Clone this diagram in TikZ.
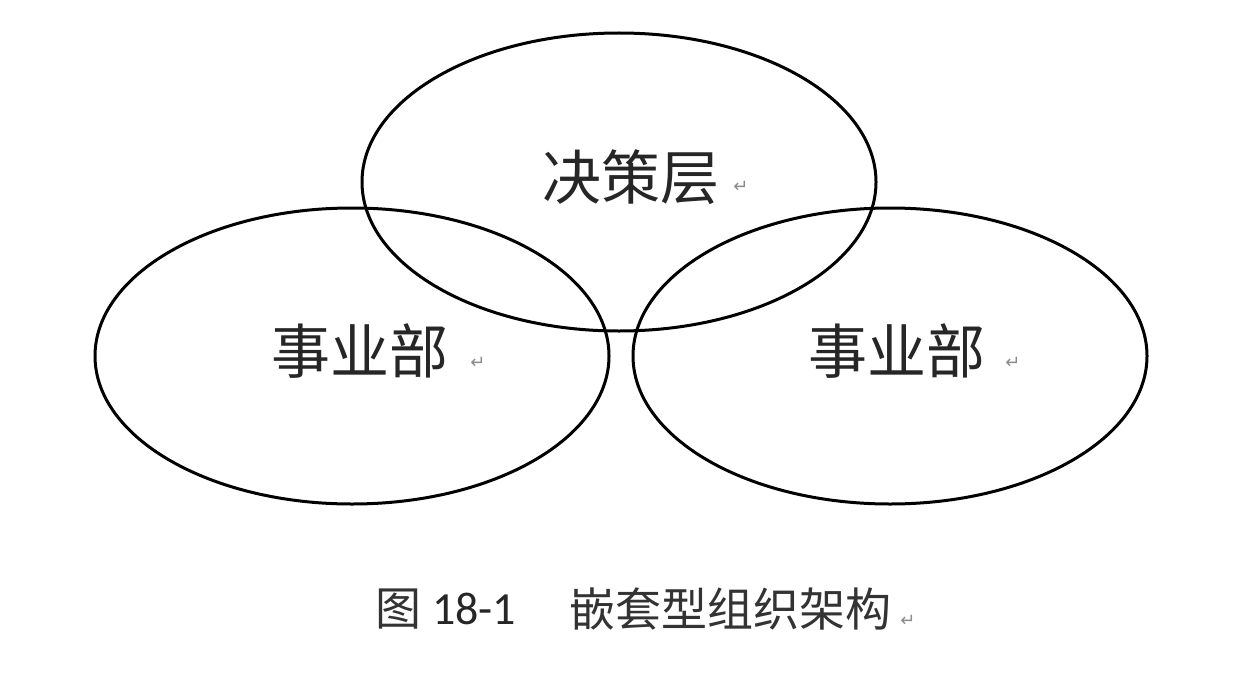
\documentclass[tikz,border=0pt]{standalone}
\usepackage{fontspec}
\newfontfamily\cjk{Noto Sans CJK SC}
\newfontfamily\latin{Carlito}
\newfontfamily\sym{DejaVu Sans}
\begin{document}
\begin{tikzpicture}[x=1pt,y=-1pt,
  oval/.style={draw=black,line width=3pt},
  big/.style={inner sep=0pt,font=\cjk\fontsize{59}{59}\selectfont,text=black!85},
  captext/.style={inner sep=0pt,font=\cjk\fontsize{46}{46}\selectfont,text=black!80},
  pmark/.style={inner sep=0pt,font=\sym\fontsize{18}{18}\selectfont,text=black!45}]
\useasboundingbox (0,0) rectangle (1244,674);
\fill[white] (0,0) rectangle (1244,674);
\draw[oval] (619,182) ellipse [x radius=257, y radius=149];
\draw[oval] (352,356) ellipse [x radius=257, y radius=148];
\draw[oval] (890,356) ellipse [x radius=257, y radius=148];
\node[big,anchor=west] (top) at (542,177) {决策层};
\node[pmark] (mt) at (741,187) {↵};
\node[big,anchor=west] (left) at (271,351) {事业部};
\node[pmark] (ml) at (478,363) {↵};
\node[big,anchor=west] (right) at (808,351) {事业部};
\node[pmark] (mr) at (1013,363) {↵};
\node[captext,anchor=west] (tu) at (375,609) {图};
\node[inner sep=0pt,anchor=west,font=\latin\fontsize{46}{46}\selectfont,text=black!85] (num) at (432,609) {18-1};
\node[captext,anchor=west] (title) at (569,609) {嵌套型组织架构};
\node[pmark] (mc) at (908,621) {↵};
\end{tikzpicture}
\end{document}
